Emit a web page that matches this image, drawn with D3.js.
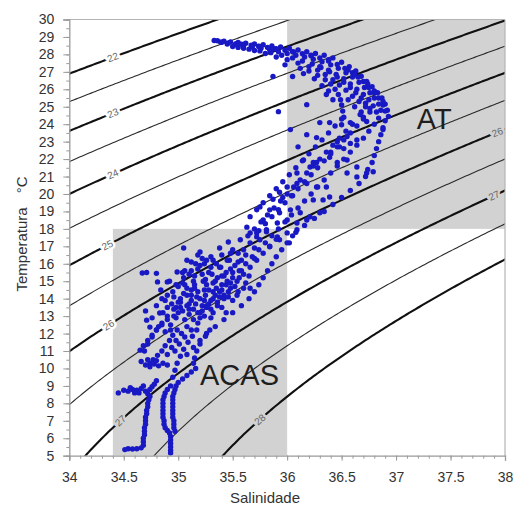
<!DOCTYPE html>
<html><head><meta charset="utf-8">
<script src="https://cdn.jsdelivr.net/npm/d3@7"></script>
<style>body{margin:0;background:#fff}svg{display:block;font-family:"Liberation Sans",Arial,sans-serif}</style>
</head><body><svg id="c" width="519" height="515"></svg>
<script>
// ---------- DATA ----------
const salinityTicks = [34, 34.5, 35, 35.5, 36, 36.5, 37, 37.5, 38];
const temperatureTicks = [5,6,7,8,9,10,11,12,13,14,15,16,17,18,19,20,21,22,23,24,25,26,27,28,29,30];
const sigmaLevels = [22, 22.5, 23, 23.5, 24, 24.5, 25, 25.5, 26, 26.5, 27, 27.5, 28];
const sigmaLabelLevels = [22, 23, 24, 25, 26, 27, 28, 26, 27];
const sigmaLabelSal    = [34.4, 34.4, 34.4, 34.35, 34.36, 34.47, 35.75, 37.93, 37.9];
const massNames  = ["AT", "ACAS"];
const massSalMin = [36, 34.4];
const massSalMax = [38, 36];
const massTmpMin = [18, 5];
const massTmpMax = [30, 18];
const massLabelSal = [37.19, 35.2];
const massLabelTmp = [23.7, 9.05];

// observed (S, T) pairs
const surfaceLayer = [
 [35.33,28.8],[35.36,28.78],[35.42,28.76],[35.48,28.72],[35.55,28.68],[35.62,28.64],[35.7,28.6],[35.78,28.55],[35.86,28.48],[35.94,28.42],[36.02,28.35],[36.1,28.25],[36.18,28.15],[36.26,28.05],[36.34,27.95],[36.42,27.8],[36.5,27.55],[36.57,27.3],[36.63,27.05],[36.68,26.75],[36.73,26.45],[36.78,26.15],[36.83,25.8],[36.87,25.5],[36.9,25.15],[36.92,24.8],[36.93,24.45],
 [35.39,28.7],[35.46,28.66],[35.53,28.62],[35.6,28.57],[35.67,28.52],[35.74,28.47],[35.82,28.4],[35.9,28.32],[35.98,28.24],[36.06,28.14],[36.14,28.04],[36.22,27.92],[36.3,27.8],[36.38,27.62],[36.46,27.42],[36.53,27.2],[36.6,26.95],[36.65,26.7],[36.7,26.45],[36.75,26.1],[36.8,25.8],[36.84,25.5],[36.88,25.1],[36.9,24.75],
 [35.45,28.6],[35.52,28.56],[35.6,28.5],[35.68,28.42],[35.76,28.35],[35.84,28.25],[35.92,28.15],[36.0,28.05],[36.08,27.95],[36.16,27.85],[36.24,27.72],[36.32,27.58],[36.4,27.4],[36.47,27.2],[36.54,26.95],[36.6,26.7],[36.66,26.4],[36.71,26.1],[36.76,25.8],[36.8,25.5],[36.84,25.15],[36.86,24.8],
 [35.55,28.4],[35.65,28.3],[35.75,28.2],[35.85,28.1],[35.95,27.95],[36.05,27.8],[36.14,27.62],[36.23,27.45],[36.31,27.25],[36.39,27.0],[36.46,26.7],[36.52,26.4],[36.58,26.1],[36.63,25.8],[36.68,25.5],[36.72,25.2],[36.76,24.9],
 [35.5,28.45],[35.6,28.35],[35.7,28.22],[35.8,28.05],[35.9,27.85],[36.0,27.7],[36.1,27.5],[36.2,27.3],[36.28,27.1],[36.35,26.85],[36.42,26.55],[36.48,26.25],[36.54,25.95],[36.6,25.6],[36.66,25.3],[36.72,25.0],[36.76,24.7],
 [36.2,27.05],[36.28,26.8],[36.35,26.55],[36.4,26.3],[36.44,26.0],[36.47,25.7],[36.49,25.4],[36.5,25.1],[36.51,24.75],[36.52,24.4],
 [36.3,27.3],[36.38,27.1],[36.45,26.85],[36.52,26.6],[36.58,26.3],[36.64,26.0],[36.7,25.7],[36.75,25.4],[36.79,25.05],[36.82,24.7],[36.84,24.35],
 [35.4,28.7],[35.58,28.58],[35.74,28.45],[35.88,28.32],[36.05,28.15],[36.22,27.95],[36.38,27.7],[36.56,27.1],[36.62,26.85],[36.74,26.3],[36.8,25.9],[36.88,25.3],
 [36.12,27.2],[36.25,26.6],[36.32,26.2],[36.38,25.9],[36.56,25.4],[36.62,25.0],[36.68,24.7],[36.7,24.4],[36.42,25.4],[36.36,25.7],[35.98,27.4],[36.15,26.9]
];
const subsurfaceScatter = [
 [35.87,26.73],[36.05,26.73],[36.18,25.12],[35.92,24.72],[36.03,23.69],[36.3,24.09],[36.18,23.4],[36.27,23.23],[36.39,24.09],[36.5,23.97],[36.58,24.09],[36.67,24.55],[36.73,24.15],[36.88,23.69],[36.55,23.29],[36.64,23.1],
 [36.1,22.7],[36.4,22.4],[36.46,23.0],[36.52,22.6],[36.58,22.9],[36.46,21.8],[36.55,21.95],[36.64,21.55],[36.73,21.2],[36.79,21.27],[36.64,20.98],[36.55,21.2],
 [36.09,21.2],[36.24,21.8],[36.39,22.1],[36.48,22.7],[36.15,21.95],[36.21,21.55],[36.27,21.8],
 [35.87,19.7],[35.93,20.1],[36.0,20.4],[36.05,19.9],[35.96,19.8],
 [36.09,20.6],[36.18,20.6],[36.27,20.4],[36.36,20.4],[36.33,19.66],[36.39,19.83],[36.24,19.66],
 [35.75,19.26],[35.84,19.09],[35.93,18.92],[36.03,19.09],[36.12,18.92],[36.21,18.69],[36.3,18.92],
 [35.78,18.51],[35.91,18.34],[36.0,18.51],[36.09,18.34],[36.18,18.51],
 [35.63,18.1],[35.72,17.77],[35.81,17.95],[35.91,17.54],[36.0,17.77],[36.09,17.95],
 [35.57,17.38],[35.66,17.2],[35.75,17.38],[35.84,16.97],[35.93,17.38],[36.02,17.2]
];
const upperCentral = [
 [36.9,24.2],[36.88,23.8],[36.86,23.4],[36.84,23.0],[36.82,22.6],[36.8,22.2],[36.78,21.8],[36.74,21.4],[36.72,21.0],[36.66,20.6],[36.58,20.2],[36.5,19.8],[36.42,19.4],[36.34,19.0],[36.25,18.6],[36.16,18.2],[36.08,17.8],
 [36.8,24.0],[36.75,23.6],[36.7,23.2],[36.64,22.8],[36.58,22.4],[36.52,22.0],[36.46,21.6],[36.4,21.2],[36.34,20.8],[36.28,20.4],[36.22,20.0],[36.16,19.6],[36.1,19.2],[36.04,18.8],[35.98,18.4],[35.92,18.0],[35.86,17.6],
 [36.7,24.3],[36.64,23.9],[36.58,23.5],[36.52,23.1],[36.46,22.7],[36.4,22.3],[36.34,21.9],[36.28,21.5],[36.22,21.1],[36.16,20.7],[36.1,20.3],[36.04,19.9],[35.98,19.5],[35.92,19.1],[35.86,18.7],[35.8,18.3],[35.74,17.9],
 [36.6,24.0],[36.54,23.6],[36.48,23.2],[36.42,22.8],[36.36,22.4],[36.3,22.0],[36.24,21.6],[36.18,21.2],[36.12,20.8],[36.06,20.4],[36.0,20.0],[35.94,19.6],[35.88,19.2],[35.82,18.8],[35.76,18.4],[35.7,18.0],[35.64,17.6],
 [36.5,24.3],[36.44,23.9],[36.38,23.5],[36.32,23.1],[36.26,22.7],[36.2,22.3],[36.14,21.9],[36.08,21.5],[36.02,21.1],[35.96,20.7],[35.9,20.3],[35.84,19.9],[35.78,19.5],[35.72,19.1],[35.66,18.7]
];
const lowerCentral = [
 [36.05,17.6],[36.0,17.2],[35.95,16.8],[35.9,16.4],[35.86,16.0],[35.82,15.6],[35.78,15.2],[35.74,14.8],[35.7,14.4],[35.65,14.0],[35.58,13.6],[35.5,13.2],[35.42,12.8],[35.34,12.4],[35.26,12.0],[35.2,11.6],[35.14,11.2],[35.08,10.8],
 [35.9,17.4],[35.84,17.0],[35.78,16.6],[35.72,16.2],[35.66,15.8],[35.6,15.4],[35.54,15.0],[35.48,14.6],[35.42,14.2],[35.36,13.8],[35.3,13.4],[35.24,13.0],[35.18,12.6],[35.12,12.2],[35.06,11.8],[35.01,11.4],[34.97,11.0],
 [35.8,17.2],[35.74,16.8],[35.68,16.4],[35.62,16.0],[35.56,15.6],[35.5,15.2],[35.44,14.8],[35.38,14.4],[35.32,14.0],[35.26,13.6],[35.2,13.2],[35.14,12.8],[35.08,12.4],[35.03,12.0],[34.98,11.6],[34.94,11.2],[34.9,10.8],
 [35.7,16.9],[35.62,16.5],[35.55,16.1],[35.48,15.7],[35.4,15.3],[35.32,14.9],[35.24,14.5],[35.17,14.1],[35.1,13.7],[35.04,13.3],[34.98,12.9],[34.93,12.5],[34.88,12.1],
 [35.55,16.6],[35.47,16.2],[35.39,15.8],[35.31,15.4],[35.23,15.0],[35.15,14.6],[35.08,14.2],[35.02,13.8],[34.96,13.4],[34.9,13.0],[34.85,12.6],[34.8,12.2],[34.76,11.8],[34.72,11.4],[34.69,11.0],
 [35.05,15.2],[35.12,15.6],[35.2,15.9],[35.28,15.5],[35.35,16.0],[35.15,14.8],[35.25,14.2],[35.35,14.6],[35.45,15.0],[35.05,14.3],[35.12,13.9],[35.22,13.6],[35.3,13.9],[35.4,13.5],[35.5,13.9],[35.55,14.4],[35.62,14.9],[35.58,15.6],[35.45,16.2],[35.3,16.4],[35.0,13.8],[34.95,14.4],[34.92,15.0],[35.08,16.2],[35.18,16.5],[35.0,13.2],[35.1,13.1],[35.2,12.9],[34.9,13.5],[34.85,14.0],[35.38,15.8],[35.48,16.6],[35.25,15.1],[35.15,15.3],[35.42,14.0],[35.65,15.3],[35.7,16.3],[35.6,16.8],[35.12,14.5],[35.32,13.2],
 [35.02,14.0],[35.08,14.6],[35.14,15.0],[35.22,15.4],[35.3,15.8],[35.36,15.2],[35.44,15.5],[35.52,15.9],[35.58,16.2],[35.2,14.0],[35.28,14.5],[35.34,14.2],[35.46,14.4],[35.52,14.7],[35.1,13.4],[35.18,13.2],[35.26,13.5],[35.36,13.6],[35.44,13.2],[35.06,12.8],[34.98,13.5],[34.96,14.1],[35.0,14.7],[35.06,15.6],[35.16,16.0],[35.26,16.2],[35.4,16.5],[35.5,16.8],[35.3,12.9],[35.4,14.8],
 [35.04,14.9],[35.1,15.4],[35.18,15.7],[35.24,16.0],[35.32,16.2],[35.12,14.2],[35.18,14.4],[35.26,14.8],[35.34,15.0],[35.42,15.3],[35.5,15.5],[35.08,13.6],[35.16,13.7],[35.24,13.9],[35.32,14.4],[35.4,14.5],[35.48,14.9],[35.56,15.2],[35.02,13.5],[34.96,13.0],[35.14,13.4],[35.22,13.3],[35.28,13.7],[35.38,14.1],[35.46,14.1],[35.54,14.2],[35.6,14.6],[35.66,14.6],[34.98,14.8],[35.04,15.5],[35.12,16.1],[35.22,16.3],[34.9,14.2],[34.94,13.7],[35.06,14.8],
 [34.9,12.8],[34.86,13.2],[34.8,13.6],[34.76,12.9],[34.82,12.4],[34.88,13.9],[34.84,14.5],[34.71,12.77],[34.74,12.37],[34.83,13.18],[34.93,12.2],[34.7,13.3],
 [35.05,16.9],[35.2,16.68],[35.38,16.9],[35.46,17.25],[35.66,17.77],[35.72,17.54],[35.81,17.83],
 [34.67,15.47],[34.71,15.5],[34.8,15.45],[34.81,14.96],[34.9,14.96],[34.99,15.53]
];
const deepStrands = [
 [34.45,8.6],[34.5,8.75],[34.54,8.7],[34.58,8.8],[34.62,8.75],[34.66,8.85],[34.7,8.7],[34.74,8.8],[34.76,8.95],[34.72,8.55],[34.6,8.6],[34.68,9.0],[34.78,9.1],[34.8,9.3],[34.56,8.9],[34.64,8.6],
 [34.74,8.4],[34.73,8.2],[34.72,8.0],[34.72,7.8],[34.71,7.6],[34.71,7.4],[34.7,7.2],[34.7,7.0],[34.7,6.8],[34.69,6.6],[34.69,6.4],[34.69,6.2],[34.68,6.0],[34.68,5.8],[34.68,5.6],[34.66,5.45],[34.62,5.4],[34.58,5.38],[34.54,5.4],[34.51,5.35],
 [34.93,9.0],[34.9,8.8],[34.88,8.6],[34.87,8.4],[34.86,8.2],[34.86,8.0],[34.86,7.8],[34.86,7.6],[34.86,7.4],[34.86,7.2],[34.87,7.0],[34.87,6.8],[34.88,6.6],[34.9,6.45],[34.92,6.3],[34.93,6.1],[34.93,5.9],[34.93,5.7],[34.93,5.5],[34.93,5.3],[34.93,5.15],
 [35.16,10.0],[35.12,9.8],[35.08,9.6],[35.04,9.4],[35.0,9.2],[34.98,9.0],[34.97,8.8],[34.96,8.6],[34.95,8.4],[34.95,8.2],[34.95,8.0],[34.95,7.8],[34.95,7.6],[34.95,7.4],[34.95,7.2],[34.96,7.0],[34.96,6.8],[34.96,6.6],[34.97,6.4],
 [34.99,12.2],[34.95,11.9],[34.92,11.6],[34.88,11.3],[34.85,11.0],[34.81,10.75],[34.77,10.5],[34.74,10.3],
 [35.17,12.2],[35.13,11.85],[35.09,11.5],[35.05,11.1],[35.02,10.7],[34.99,10.3],[34.97,9.9],[34.95,9.5],
 [35.29,12.2],[35.25,11.85],[35.2,11.4],[35.17,11.0],[35.15,10.6],[35.14,10.3],
 [34.66,10.4],[34.7,10.2],[34.74,10.1],[34.78,10.25],[34.82,10.15],[34.86,10.3],[34.9,10.2],[34.72,10.5],[34.8,10.45],
 [34.65,11.05],[34.68,11.3],[34.72,11.6],[34.76,11.9],[34.8,12.2],[34.85,12.5]
];

// ---------- EQUATION OF STATE (UNESCO 1981, p = 0) ----------
function sigmaT(S, T) {
  const rw = 999.842594 + 6.793952e-2*T - 9.095290e-3*T*T + 1.001685e-4*T**3 - 1.120083e-6*T**4 + 6.536332e-9*T**5;
  const A = 8.24493e-1 - 4.0899e-3*T + 7.6438e-5*T*T - 8.2467e-7*T**3 + 5.3875e-9*T**4;
  const B = -5.72466e-3 + 1.0227e-4*T - 1.6546e-6*T*T;
  const C = 4.8314e-4;
  return rw + A*S + B*Math.pow(S,1.5) + C*S*S - 1000;
}
function solveT(S, sig) {
  let lo = -2, hi = 40;
  for (let i = 0; i < 60; i++) {
    const m = (lo+hi)/2;
    if (sigmaT(S, m) > sig) lo = m; else hi = m;
  }
  return (lo+hi)/2;
}

// ---------- DRAW ----------
const svg = d3.select("#c");
const L = 69.3, R = 505, Tp = 19.5, B = 455.7;
const x = d3.scaleLinear().domain([34, 38]).range([L, R]);
const y = d3.scaleLinear().domain([5, 30]).range([B, Tp]);

svg.append("rect").attr("width",519).attr("height",515).attr("fill","#fff");
svg.append("defs").append("clipPath").attr("id","clip")
  .append("rect").attr("x",L).attr("y",Tp).attr("width",R-L).attr("height",B-Tp);

const plot = svg.append("g").attr("clip-path","url(#clip)");
const SHADE = "#d2d2d2";
massNames.forEach((n,i)=>{
  plot.append("rect")
    .attr("x", x(massSalMin[i])).attr("y", y(massTmpMax[i]))
    .attr("width", x(massSalMax[i]) - x(massSalMin[i]))
    .attr("height", y(massTmpMin[i]) - y(massTmpMax[i]))
    .attr("fill", SHADE);
});

const salGrid = d3.range(33.9, 38.12, 0.02);
const line = d3.line().x(d=>x(d[0])).y(d=>y(d[1]));
sigmaLevels.forEach(lv=>{
  const pts = salGrid.map(s=>[s, solveT(s, lv)]);
  const thick = Number.isInteger(lv);
  plot.append("path").attr("d", line(pts)).attr("fill","none")
    .attr("stroke", thick ? "#111" : "#2a2a2a")
    .attr("stroke-width", thick ? 2.1 : 1.1);
});

// isopycnal labels
sigmaLabelLevels.forEach((lv,i)=>{
  const s = sigmaLabelSal[i];
  const t = solveT(s, lv);
  const t2 = solveT(s+0.02, lv);
  const px = x(s), py = y(t);
  const ang = Math.atan2(y(t2)-py, x(s+0.02)-px)*180/Math.PI;
  let bg = "#fff";
  massNames.forEach((n,k)=>{
    if (s>=massSalMin[k] && s<=massSalMax[k] && t>=massTmpMin[k] && t<=massTmpMax[k]) bg = SHADE;
  });
  plot.append("text").text(lv)
    .attr("transform", `translate(${px},${py}) rotate(${ang})`)
    .attr("text-anchor","middle").attr("dy","0.35em")
    .attr("font-size", 10).attr("fill","#666")
    .attr("stroke", bg).attr("stroke-width", 5).attr("paint-order","stroke");
});

// observations
const allPoints = [].concat(surfaceLayer, subsurfaceScatter, upperCentral, lowerCentral, deepStrands);
plot.append("g").selectAll("circle").data(allPoints).join("circle")
  .attr("cx", d=>x(d[0])).attr("cy", d=>y(d[1])).attr("r", 2.7)
  .attr("fill", "#1818c4");

// water mass labels
massNames.forEach((n,i)=>{
  svg.append("text").text(n).attr("x", x(massLabelSal[i])).attr("y", y(massLabelTmp[i]))
    .attr("font-size", 29).attr("fill","#1e1e1e");
});

// frame
svg.append("line").attr("x1",L).attr("x2",R).attr("y1",Tp).attr("y2",Tp).attr("stroke","#b4b4b4").attr("stroke-width",1.2);
svg.append("line").attr("x1",R).attr("x2",R).attr("y1",Tp).attr("y2",B).attr("stroke","#b4b4b4").attr("stroke-width",1.2);

// axes
const AX = "#9a9a9a";
const xAxis = svg.append("g").attr("transform",`translate(0,${B})`)
  .call(d3.axisBottom(x).tickValues(salinityTicks).tickFormat(d=>d).tickSize(5).tickPadding(11));
const yAxis = svg.append("g").attr("transform",`translate(${L},0)`)
  .call(d3.axisLeft(y).tickValues(temperatureTicks).tickFormat(d=>d).tickSize(6).tickPadding(9));
[xAxis, yAxis].forEach(g=>{
  g.select(".domain").attr("stroke",AX).attr("stroke-width",1.3);
  g.selectAll(".tick line").attr("stroke",AX);
  g.selectAll("text").attr("font-size",14).attr("fill","#333").attr("font-family",'"Liberation Sans",Arial,sans-serif');
});
// minor ticks
svg.append("g").attr("transform",`translate(0,${B})`)
  .call(d3.axisBottom(x).ticks(40).tickFormat("").tickSize(3))
  .call(g=>{g.select(".domain").remove(); g.selectAll("line").attr("stroke",AX);});
svg.append("g").attr("transform",`translate(${L},0)`)
  .call(d3.axisLeft(y).ticks(50).tickFormat("").tickSize(3))
  .call(g=>{g.select(".domain").remove(); g.selectAll("line").attr("stroke",AX);});

// titles
svg.append("text").text("Salinidade").attr("x",265).attr("y",503)
  .attr("text-anchor","middle").attr("font-size",15).attr("fill","#333");
const yt = svg.append("text").attr("transform","translate(27,234) rotate(-90)")
  .attr("text-anchor","middle").attr("font-size",15).attr("fill","#333");
yt.append("tspan").text("Temperatura");
yt.append("tspan").attr("dx",14).text("°C");
</script></body></html>
